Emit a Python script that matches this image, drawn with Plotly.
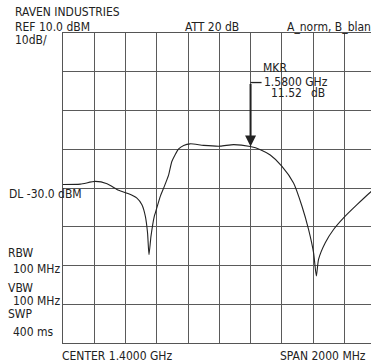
import plotly.graph_objects as go

# Trace data (GHz, dBm)
freq_ghz = [0.400, 0.511, 0.607, 0.682, 0.756, 0.820, 0.873, 0.905, 0.927, 0.941,
            0.950, 0.963, 0.984, 0.991, 1.023, 1.044, 1.076, 1.097, 1.140, 1.172,
            1.214, 1.300, 1.406, 1.492, 1.598, 1.663, 1.726, 1.801, 1.875, 1.929,
            1.971, 2.003, 2.021, 2.035, 2.078, 2.131, 2.195, 2.281, 2.372, 2.400]
level_dbm = [-29.1, -29.0, -28.3, -28.9, -30.6, -31.5, -32.6, -34.3, -37.3, -41.6,
             -47.2, -42.4, -37.3, -36.4, -32.1, -30.0, -26.6, -23.1, -19.9, -19.0,
             -18.6, -19.0, -19.2, -18.8, -19.3, -20.1, -21.5, -24.4, -28.7, -34.7,
             -40.7, -46.7, -52.7, -48.4, -44.1, -40.7, -37.7, -34.3, -30.9, -30.0]

# Instrument settings
ref_level = 10.0
db_per_div = 10
n_ydiv = 8
center_ghz = 1.4
span_mhz = 2000
n_xdiv = 10
marker_freq = 1.60
marker_level = -19.3
marker_label = ["MKR", "1.5800 GHz", "11.52", "dB"]

header_left = ["RAVEN INDUSTRIES", "REF 10.0 dBM", "10dB/"]
header_mid = "ATT 20 dB"
header_right = "A_norm, B_blank"
side_labels = ["DL -30.0 dBM", "RBW", "100 MHz", "VBW", "100 MHz", "SWP", "400 ms"]
footer = ["CENTER 1.4000 GHz", "SPAN 2000 MHz"]

W, H = 371, 364
L, T, B = 63, 33, 21
PW, PH = W - L, H - T - B

span_ghz = span_mhz / 1000.0
x0 = center_ghz - span_ghz / 2
div_ghz = span_ghz / n_xdiv
div_px = 31.26
x1 = x0 + (PW / div_px) * div_ghz
y1 = ref_level
y0 = ref_level - db_per_div * n_ydiv

FONT = "Liberation Sans Narrow, DejaVu Sans Condensed, Arial Narrow, sans-serif"
TXT = "#222222"


def px(xp):
    return (xp - L) / PW


def py(yp):
    return (H - B - yp) / PH


fig = go.Figure()
fig.add_trace(go.Scatter(x=freq_ghz, y=level_dbm, mode="lines",
                         line=dict(color="#222222", width=1.1, shape="spline", smoothing=0.6),
                         hoverinfo="skip", showlegend=False))

ann = []


def text(s, xp, yp):
    ann.append(dict(text=s, x=px(xp), y=py(yp), xref="paper", yref="paper",
                    xanchor="left", yanchor="middle", showarrow=False,
                    borderpad=0, font=dict(family=FONT, size=12, color=TXT)))


text(header_left[0], 14, 12.5)
text(header_left[1], 14, 27)
text(header_left[2], 14, 39.5)
text(header_mid, 184, 27)
text(header_right, 286, 27)
text(marker_label[0], 262, 67.5)
text(marker_label[1], 263, 82)
text(marker_label[2], 270, 93)
text(marker_label[3], 310, 93)
side_pos = [(8, 194), (7, 253), (12, 269), (7, 288), (12, 301), (7, 314), (12, 332)]
for s, (xp, yp) in zip(side_labels, side_pos):
    text(s, xp, yp)
text(footer[0], 61, 355.5)
text(footer[1], 279, 355.5)

# marker arrow
ann.append(dict(text="", x=marker_freq, y=marker_level, xref="x", yref="y",
                showarrow=True, arrowhead=2, arrowsize=1.1, arrowwidth=2,
                arrowcolor="#222222", ax=0, ay=-64, standoff=0))

fig.add_shape(type="line", xref="x", yref="y", xsizemode="pixel", ysizemode="pixel",
              xanchor=marker_freq, yanchor=marker_level, x0=0, x1=11, y0=64, y1=64,
              line=dict(color="#222222", width=1.3))

fig.update_layout(
    width=W, height=H, margin=dict(l=L, r=0, t=T, b=B, pad=0),
    paper_bgcolor="white", plot_bgcolor="white",
    annotations=ann, showlegend=False,
    xaxis=dict(range=[x0, x1], tick0=x0, dtick=div_ghz, showgrid=True,
               gridcolor="#5a5a5a", gridwidth=1, zeroline=False,
               showline=True, mirror=True, linecolor="#555555", linewidth=1,
               showticklabels=False, ticks="", fixedrange=True),
    yaxis=dict(range=[y0, y1], tick0=y0, dtick=db_per_div, showgrid=True,
               gridcolor="#5a5a5a", gridwidth=1, zeroline=False,
               showline=True, mirror=False, linecolor="#555555", linewidth=1,
               showticklabels=False, ticks="", fixedrange=True),
)

fig.write_html("out.html", config={"displayModeBar": False},
               post_script="document.body.style.margin='0';document.body.style.overflow='hidden';")
